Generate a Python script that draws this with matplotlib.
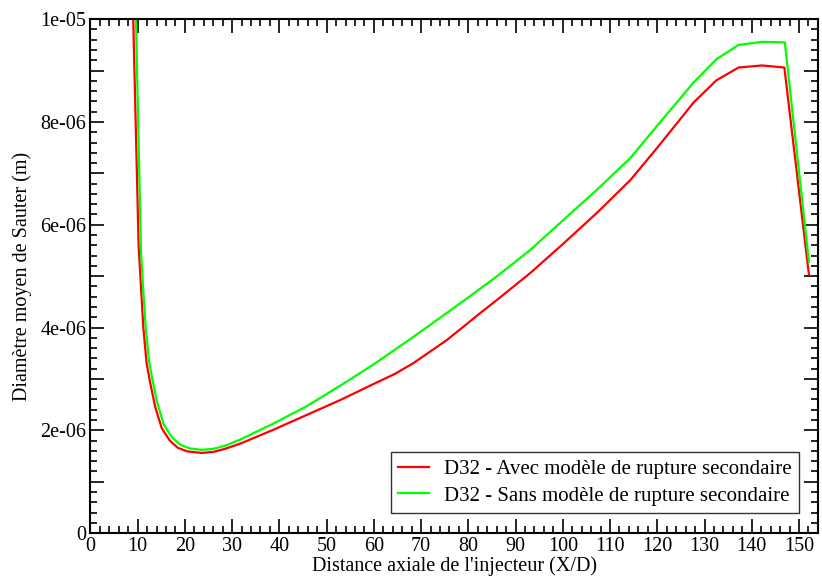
import numpy as np
import matplotlib
matplotlib.use('Agg')
import matplotlib.pyplot as plt
from matplotlib.ticker import MultipleLocator, FuncFormatter

plt.rcParams['font.family'] = ['Liberation Serif', 'DejaVu Serif']

# D32 with secondary breakup model (red)
x_avec = [8.8, 10.2, 10.7, 11.2, 11.9, 12.6, 13.7, 15.1, 16.8, 18.5, 20.5, 23.5,
          26.0, 28.5, 31.7, 38.7, 45.8, 52.9, 59.9, 64.5, 68.4, 75.5, 82.5, 86.1,
          93.1, 100.2, 107.2, 114.3, 120.0, 127.7, 132.5, 137.2, 142.2, 146.9, 152.1]
d32_avec = [11.0, 5.6, 4.8, 4.0, 3.3, 2.95, 2.46, 2.04, 1.8, 1.66, 1.59, 1.56,
            1.58, 1.64, 1.74, 2.01, 2.30, 2.59, 2.90, 3.10, 3.31, 3.76, 4.28, 4.54,
            5.06, 5.64, 6.23, 6.87, 7.50, 8.38, 8.81, 9.06, 9.10, 9.06, 5.03]

# D32 without secondary breakup model (green)
x_sans = [9.4, 10.7, 11.2, 11.7, 12.4, 13.1, 14.1, 15.5, 17.2, 19.0, 21.0, 23.5,
          26.0, 28.5, 31.7, 38.7, 45.8, 52.9, 59.9, 67.0, 71.9, 79.0, 86.1,
          93.1, 100.2, 107.2, 114.3, 120.0, 127.7, 132.5, 137.2, 142.2, 147.0, 152.1]
d32_sans = [11.0, 5.5, 4.7, 4.0, 3.35, 3.0, 2.55, 2.12, 1.87, 1.72, 1.65, 1.62,
            1.64, 1.70, 1.82, 2.13, 2.47, 2.87, 3.28, 3.73, 4.05, 4.52, 5.0,
            5.51, 6.10, 6.68, 7.30, 7.93, 8.77, 9.22, 9.50, 9.56, 9.55, 5.28]

fig = plt.figure(figsize=(8.22, 5.82), dpi=100)
ax = fig.add_axes([0.110, 0.084, 0.885, 0.883])

ax.plot(x_avec, np.array(d32_avec) * 1e-6, color='#ff0000', lw=1.6,
        label='D32 - Avec mod\u00e8le de rupture secondaire')
ax.plot(x_sans, np.array(d32_sans) * 1e-6, color='#00ff00', lw=1.6,
        label='D32 - Sans mod\u00e8le de rupture secondaire')

ax.set_xlim(0, 154)
ax.set_ylim(0, 1e-5)

ax.xaxis.set_major_locator(MultipleLocator(10))
ax.xaxis.set_minor_locator(MultipleLocator(2))
ax.yaxis.set_major_locator(MultipleLocator(1e-6))
ax.yaxis.set_minor_locator(MultipleLocator(2e-7))


def ylab(v, pos):
    k = int(round(v / 1e-6))
    if k == 0:
        return '0'
    if k % 2:
        return ''
    return '%.0e' % v


ax.yaxis.set_major_formatter(FuncFormatter(ylab))

ax.tick_params(which='both', direction='in', top=True, right=True,
               labelsize=14.5, width=1.2, colors='black')
ax.tick_params(which='major', length=10, pad=3)
ax.tick_params(which='minor', length=5)
for s in ax.spines.values():
    s.set_linewidth(1.5)

ax.set_xlabel("Distance axiale de l'injecteur (X/D)", fontsize=14.5, labelpad=0)
ax.set_ylabel('Diam\u00e8tre moyen de Sauter (m)', fontsize=14.5, labelpad=6)

leg = ax.legend(loc='lower right', bbox_to_anchor=(0.974, 0.039), fontsize=15,
                frameon=True, fancybox=False, handlelength=1.5,
                borderpad=0.35, labelspacing=0.35, handletextpad=0.7,
                borderaxespad=0.0)
leg.get_frame().set_edgecolor('black')
leg.get_frame().set_linewidth(1.0)

fig.savefig('out.png', dpi=100)
